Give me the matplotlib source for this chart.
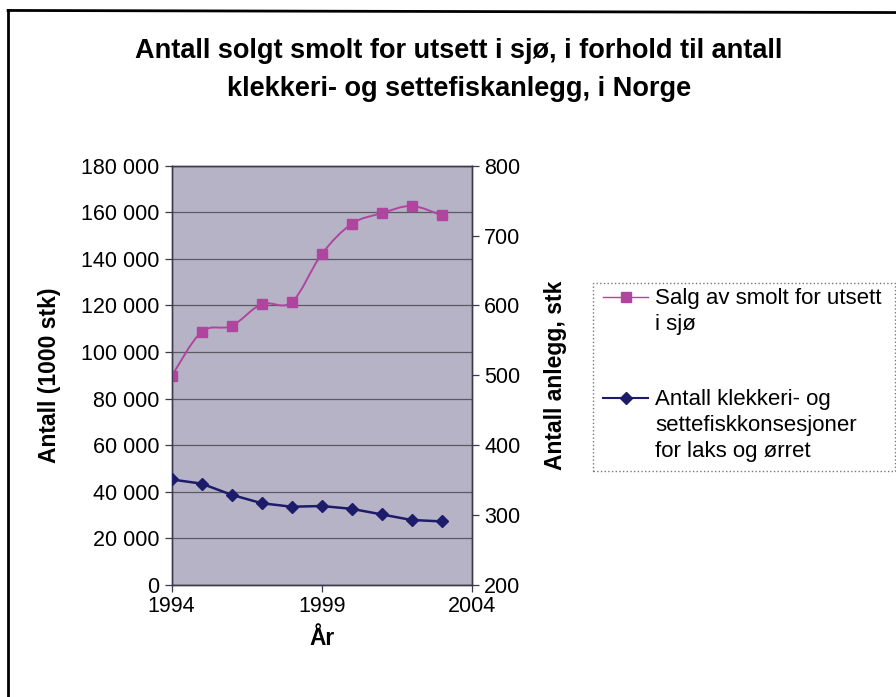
import matplotlib
matplotlib.use("Agg")
import matplotlib.pyplot as plt
from matplotlib.path import Path
from matplotlib.patches import PathPatch, Rectangle
from matplotlib.lines import Line2D
import numpy as np

years = [1994, 1995, 1996, 1997, 1998, 1999, 2000, 2001, 2002, 2003]
smolt = [89700, 108700, 111200, 120600, 121400, 142000, 155000, 159600, 162700, 158700]
anlegg = [351, 345, 329, 317, 312, 313, 309, 301, 293, 291]

left_ticks = [0, 20000, 40000, 60000, 80000, 100000, 120000, 140000, 160000, 180000]
right_ticks = [200, 300, 400, 500, 600, 700, 800]
x_ticks = [1994, 1999, 2004]

title = "Antall solgt smolt for utsett i sjø, i forhold til antall\nklekkeri- og settefiskanlegg, i Norge"
label_smolt = "Salg av smolt for utsett\ni sjø"
label_anlegg = "Antall klekkeri- og\nsettefiskkonsesjoner\nfor laks og ørret"

plt.rcParams['font.family'] = ['Liberation Sans', 'DejaVu Sans']

pink = "#b0459f"
navy = "#1c1c6a"
bg = "#b7b3c6"

W, H = 896, 697
fig = plt.figure(figsize=(8.96, 6.97), dpi=100)
ax = fig.add_axes([0.1916, 0.1607, 0.3348, 0.6016])
ax.set_facecolor(bg)
ax2 = ax.twinx()

ax.set_xlim(1994, 2004)
ax.set_ylim(0, 180000)
ax2.set_ylim(200, 800)

ax.set_yticks(left_ticks)
ax.set_yticklabels([f"{v:,}".replace(",", " ") for v in left_ticks])
ax2.set_yticks(right_ticks)
ax2.set_yticklabels([str(v) for v in right_ticks])
ax.set_xticks(x_ticks)
ax.set_xticklabels([str(v) for v in x_ticks])

ax.grid(axis='y', color='#5a5a62', linewidth=0.9)
ax.set_axisbelow(True)

for a in (ax, ax2):
    for s in a.spines.values():
        s.set_color('#3a3a48')
        s.set_linewidth(1.0)
    a.tick_params(labelsize=15.5, length=5, width=0.9, colors='#3a3a48', labelcolor='black', pad=4)
ax.tick_params(axis='x', pad=3)

# smoothed pink line (Catmull-Rom bezier through the data points)
xs = np.array(years, dtype=float)
ys = np.array(smolt, dtype=float)
n = len(xs)
verts = [(xs[0], ys[0])]
codes = [Path.MOVETO]
for i in range(n - 1):
    p0 = np.array([xs[max(i - 1, 0)], ys[max(i - 1, 0)]])
    p1 = np.array([xs[i], ys[i]])
    p2 = np.array([xs[i + 1], ys[i + 1]])
    p3 = np.array([xs[min(i + 2, n - 1)], ys[min(i + 2, n - 1)]])
    c1 = p1 + (p2 - p0) / 6.0
    c2 = p2 - (p3 - p1) / 6.0
    verts += [tuple(c1), tuple(c2), tuple(p2)]
    codes += [Path.CURVE4, Path.CURVE4, Path.CURVE4]
ax.add_patch(PathPatch(Path(verts, codes), facecolor='none', edgecolor=pink, linewidth=1.4, zorder=3))
ax.plot(years, smolt, linestyle='none', marker='s', markersize=7.5, color=pink, zorder=4)

ax2.plot(years, anlegg, color=navy, linewidth=1.8, marker='D', markersize=6.5, zorder=4)

ax.set_ylabel("Antall (1000 stk)", fontsize=16.5, fontweight='bold', labelpad=14)
ax2.set_ylabel("Antall anlegg, stk", fontsize=16.5, fontweight='bold', labelpad=17)
ax.set_xlabel("År", fontsize=16.5, fontweight='bold', labelpad=7)

fig.text(0.512, 1 - 70 / H, title, ha='center', va='center', fontsize=19.5,
         fontweight='bold', linespacing=1.6)

# legend (manual placement)
def fx(px):
    return px / W

def fy(py):
    return 1 - py / H

fig.add_artist(Rectangle((fx(593), fy(471)), fx(895) - fx(593), fy(283) - fy(471),
                         transform=fig.transFigure, facecolor='white', edgecolor='#777777',
                         linestyle=':', linewidth=1.0))
entries = [(pink, 's', 6.5, 1.0, label_smolt, 297),
           (navy, 'D', 6.0, 1.5, label_anlegg, 398)]
for color, mk, ms, lw, lab, yy in entries:
    fig.add_artist(Line2D([fx(603), fx(648)], [fy(yy), fy(yy)], transform=fig.transFigure,
                          color=color, linewidth=lw))
    fig.add_artist(Line2D([fx(625.5)], [fy(yy)], transform=fig.transFigure, color=color,
                          marker=mk, markersize=ms, linestyle='none'))
    fig.text(fx(655), fy(yy - 9), lab, ha='left', va='top', fontsize=16, linespacing=1.3)

# outer frame (left and top edges visible)
fig.add_artist(Line2D([0.009, 0.009], [0.0, 0.985], transform=fig.transFigure, color='black', linewidth=2))
fig.add_artist(Line2D([0.009, 1.0], [0.985, 0.982], transform=fig.transFigure, color='black', linewidth=2))

fig.savefig("out.png", dpi=100)
